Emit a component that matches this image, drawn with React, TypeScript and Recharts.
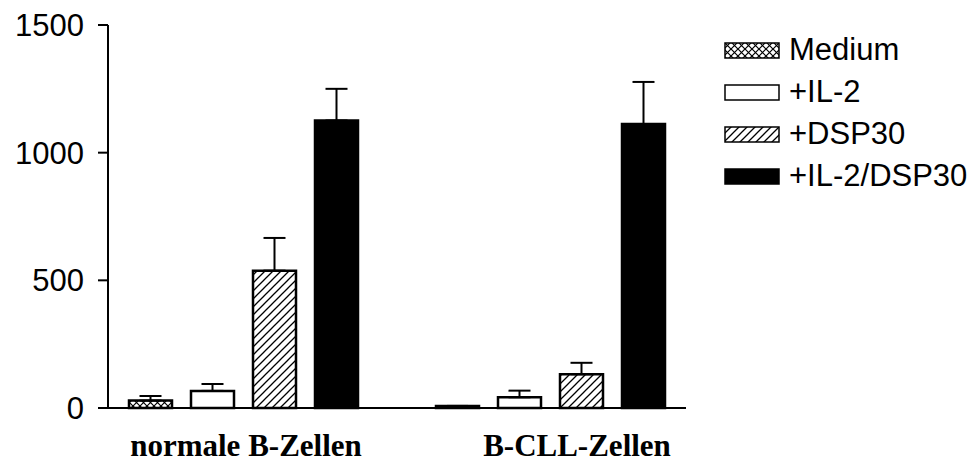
import React from "react";
import { BarChart, Bar, XAxis, YAxis, ErrorBar, Legend } from "recharts";

// groups on the x axis
const categories = ["normale B-Zellen", "B-CLL-Zellen"];

// mean values per treatment, one per group
const medium = [29, 8];
const il2 = [67, 42];
const dsp30 = [538, 132];
const il2Dsp30 = [1126, 1112];

// upper error (SEM), only drawn upwards
const mediumErr = [18, 0];
const il2Err = [27, 26];
const dsp30Err = [128, 45];
const il2Dsp30Err = [124, 165];

const yTicks = [0, 500, 1000, 1500];

const seriesNames = ["Medium", "+IL-2", "+DSP30", "+IL-2/DSP30"];

const data = categories.map((name, i) => ({
  name,
  medium: medium[i],
  mediumErr: [0, mediumErr[i]],
  il2: il2[i],
  il2Err: [0, il2Err[i]],
  dsp30: dsp30[i],
  dsp30Err: [0, dsp30Err[i]],
  il2Dsp30: il2Dsp30[i],
  il2Dsp30Err: [0, il2Dsp30Err[i]],
}));

const fills = ["url(#crossHatch)", "#ffffff", "url(#diagHatch)", "#000000"];

const sansFont = "'Liberation Sans', Arial, sans-serif";
const serifFont = "'Liberation Serif', 'Times New Roman', serif";

// small nudge so labels sit like in the original figure
const labelShift = [3.5, 27.5];

const CategoryTick = (props: any) => {
  const { x, y, payload, index } = props;
  return (
    <text
      x={x + labelShift[index]}
      y={y + 48}
      textAnchor="middle"
      fontFamily={serifFont}
      fontWeight="bold"
      fontSize={31}
      fill="#000"
    >
      {payload.value}
    </text>
  );
};

const LegendContent = () => (
  <div style={{ fontFamily: sansFont, fontSize: 31, color: "#000" }}>
    {seriesNames.map((name, i) => (
      <div
        key={name}
        style={{ display: "flex", alignItems: "center", height: 42 }}
      >
        <svg width={56} height={17} style={{ marginRight: 9 }}>
          <rect
            x={1}
            y={1}
            width={54}
            height={15}
            fill={fills[i]}
            stroke="#000"
            strokeWidth={1.5}
          />
        </svg>
        <span style={{ lineHeight: "42px" }}>{name}</span>
      </div>
    ))}
  </div>
);

const App: React.FC = () => {
  return (
    <div style={{ position: "absolute", left: 0, top: 0, background: "#fff" }}>
      <BarChart
        width={975}
        height={463}
        data={data}
        margin={{ top: 25, right: 289, bottom: 0, left: 0 }}
        barCategoryGap={40}
        barGap={19}
      >
        <defs>
          <pattern
            id="crossHatch"
            width={7}
            height={7}
            patternUnits="userSpaceOnUse"
          >
            <rect width={7} height={7} fill="#fff" />
            <path d="M0,0 L7,7 M7,0 L0,7" stroke="#000" strokeWidth={1.2} />
          </pattern>
          <pattern
            id="diagHatch"
            width={8}
            height={8}
            patternUnits="userSpaceOnUse"
          >
            <rect width={8} height={8} fill="#fff" />
            <path
              d="M-2,2 L2,-2 M0,8 L8,0 M6,10 L10,6"
              stroke="#000"
              strokeWidth={1.3}
            />
          </pattern>
        </defs>
        <XAxis
          dataKey="name"
          height={55}
          padding={{ left: -19, right: -17 }}
          axisLine={{ stroke: "#000", strokeWidth: 2 }}
          tickLine={false}
          tickSize={0}
          tickMargin={0}
          tick={<CategoryTick />}
          interval={0}
        />
        <YAxis
          width={108}
          domain={[0, 1500]}
          ticks={yTicks}
          axisLine={{ stroke: "#000", strokeWidth: 2 }}
          tickLine={{ stroke: "#000", strokeWidth: 2 }}
          tickSize={10}
          tickMargin={14}
          tick={{ fill: "#000", fontSize: 31, fontFamily: sansFont }}
        />
        <Legend
          layout="vertical"
          align="center"
          verticalAlign="middle"
          content={<LegendContent />}
          wrapperStyle={{ left: 724, top: 29, width: 251 }}
        />
        <Bar
          dataKey="medium"
          name={seriesNames[0]}
          fill={fills[0]}
          stroke="#000"
          strokeWidth={2.5}
          isAnimationActive={false}
        >
          <ErrorBar dataKey="mediumErr" width={11} stroke="#000" strokeWidth={2} />
        </Bar>
        <Bar
          dataKey="il2"
          name={seriesNames[1]}
          fill={fills[1]}
          stroke="#000"
          strokeWidth={2.5}
          isAnimationActive={false}
        >
          <ErrorBar dataKey="il2Err" width={11} stroke="#000" strokeWidth={2} />
        </Bar>
        <Bar
          dataKey="dsp30"
          name={seriesNames[2]}
          fill={fills[2]}
          stroke="#000"
          strokeWidth={2.5}
          isAnimationActive={false}
        >
          <ErrorBar dataKey="dsp30Err" width={11} stroke="#000" strokeWidth={2} />
        </Bar>
        <Bar
          dataKey="il2Dsp30"
          name={seriesNames[3]}
          fill={fills[3]}
          stroke="#000"
          strokeWidth={2.5}
          isAnimationActive={false}
        >
          <ErrorBar dataKey="il2Dsp30Err" width={11} stroke="#000" strokeWidth={2} />
        </Bar>
      </BarChart>
    </div>
  );
};

export default App;
